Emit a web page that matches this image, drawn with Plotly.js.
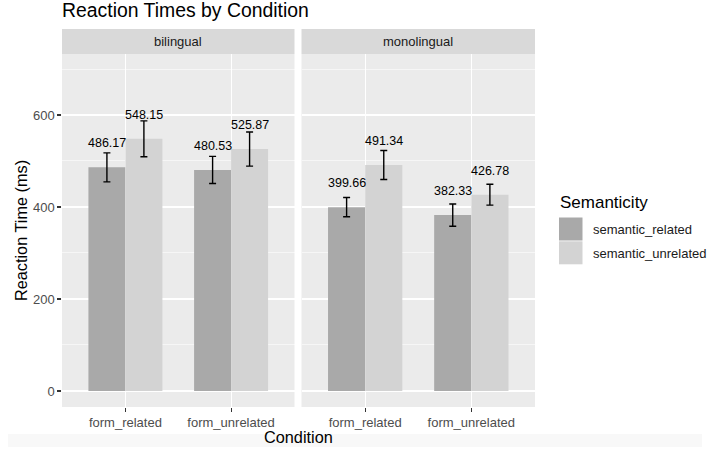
<!DOCTYPE html>
<html>
<head>
<meta charset="utf-8">
<script src="https://cdn.plot.ly/plotly-3.0.1.min.js"></script>
<style>html,body{margin:0;padding:0;background:#fff;}#chart{width:709px;height:455px;}</style>
</head>
<body>
<div id="chart"></div>
<script>
// ---- data ----
const categories = ['form_related', 'form_unrelated'];
const panels = ['bilingual', 'monolingual'];
const seriesNames = ['semantic_related', 'semantic_unrelated'];
const bilingualRelated = [486.17, 480.53];
const bilingualUnrelated = [548.15, 525.87];
const monolingualRelated = [399.66, 382.33];
const monolingualUnrelated = [491.34, 426.78];
const bilingualRelatedSE = [31.5, 29.5];
const bilingualUnrelatedSE = [39.0, 37.0];
const monolingualRelatedSE = [21.0, 24.3];
const monolingualUnrelatedSE = [31.5, 22.8];
const yTicks = [0, 200, 400, 600];

// ---- style ----
const colors = ['#A9A9A9', '#D3D3D3'];
const FONT = '"Liberation Sans", Arial, Helvetica, sans-serif';
const SMALL = 13, MID = 16.3, BIG = 19.4;
const W = 709, H = 455;
const L = 62, R = 535, T = 54, B = 407;
const px2x = p => (p - L) / (R - L);
const px2y = p => (B - p) / (B - T);
const gap = 7;
const splitL = px2x((L + R - gap) / 2 - 0.5);
const splitR = px2x((L + R + gap) / 2 - 0.5);

const panelData = [
  {name: panels[0], axis: 'x', vals: [bilingualRelated, bilingualUnrelated], se: [bilingualRelatedSE, bilingualUnrelatedSE]},
  {name: panels[1], axis: 'x2', vals: [monolingualRelated, monolingualUnrelated], se: [monolingualRelatedSE, monolingualUnrelatedSE]}
];

const traces = [];
const annotations = [];
const unitPx = ((R - L) * (splitL - 0)) / 2.2; // pixels per category unit
panelData.forEach(pd => {
  pd.vals.forEach((v, s) => {
    traces.push({
      type: 'bar', x: categories, y: v, name: seriesNames[s],
      xaxis: pd.axis, yaxis: 'y',
      marker: {color: colors[s], line: {width: 0}},
      error_y: {type: 'data', array: pd.se[s], visible: true, color: '#000', thickness: 1.4, width: 3.5},
      showlegend: false, hoverinfo: 'x+y'
    });
    v.forEach((val, i) => {
      annotations.push({
        x: categories[i], y: val, xref: pd.axis, yref: 'y',
        xshift: (s === 0 ? -1 : 1) * 0.175 * unitPx, yshift: 24,
        text: val.toFixed(2), showarrow: false, xanchor: 'center', yanchor: 'middle',
        font: {family: FONT, size: 12.5, color: '#000'}
      });
    });
  });
});

const shapes = [];
// strips
[[0, splitL], [splitR, 1]].forEach((d, k) => {
  shapes.push({type: 'rect', xref: 'paper', yref: 'paper', x0: d[0], x1: d[1], y0: 1, y1: px2y(29),
    fillcolor: '#D9D9D9', line: {width: 0}});
  annotations.push({xref: 'paper', yref: 'paper', x: (d[0] + d[1]) / 2, y: px2y(41.5), text: panels[k],
    showarrow: false, xanchor: 'center', yanchor: 'middle', font: {family: FONT, size: SMALL, color: '#1A1A1A'}});
});
// legend (custom, ggplot style)
annotations.push({xref: 'paper', yref: 'paper', x: px2x(557.5), y: px2y(202), text: 'Semanticity',
  showarrow: false, xanchor: 'left', yanchor: 'middle', font: {family: FONT, size: 17, color: '#000'}});
seriesNames.forEach((nm, s) => {
  const top = 217.5 + s * 23.8;
  shapes.push({type: 'rect', xref: 'paper', yref: 'paper', x0: px2x(559), x1: px2x(582.5),
    y0: px2y(top), y1: px2y(top + 23), fillcolor: colors[s], line: {width: 0}});
  annotations.push({xref: 'paper', yref: 'paper', x: px2x(590.5), y: px2y(top + 11.8), text: nm,
    showarrow: false, xanchor: 'left', yanchor: 'middle', font: {family: FONT, size: SMALL, color: '#1A1A1A'}});
});
// x axis title
annotations.push({xref: 'paper', yref: 'paper', x: 0.5, y: px2y(437), text: 'Condition',
  showarrow: false, xanchor: 'center', yanchor: 'middle', font: {family: FONT, size: MID, color: '#000'}});
// faint band at the bottom of the screenshot
shapes.push({type: 'rect', xref: 'paper', yref: 'paper', x0: px2x(8), x1: px2x(702), y0: px2y(447), y1: px2y(434),
  fillcolor: '#F8F8F8', line: {width: 0}, layer: 'below'});

const xaxisBase = {
  type: 'category', range: [-0.6, 1.6], showgrid: true, gridcolor: '#FFFFFF', gridwidth: 1.1,
  ticks: 'outside', ticklen: 3.7, tickwidth: 1.1, tickcolor: '#333333', zeroline: false, showline: false,
  tickfont: {family: FONT, size: SMALL, color: '#4D4D4D'}, anchor: 'y', fixedrange: true
};

const layout = {
  width: W, height: H,
  margin: {l: L, r: W - R, t: T, b: H - B, pad: 0},
  paper_bgcolor: '#FFFFFF', plot_bgcolor: '#EBEBEB',
  barmode: 'group', bargap: 0.3, bargroupgap: 0,
  showlegend: false,
  title: {text: 'Reaction Times by Condition', x: L / W, xanchor: 'left', xref: 'container',
    y: 1 - 10.5 / H, yanchor: 'middle', yref: 'container', font: {family: FONT, size: BIG, color: '#000'}},
  xaxis: Object.assign({}, xaxisBase, {domain: [0, splitL]}),
  xaxis2: Object.assign({}, xaxisBase, {domain: [splitR, 1]}),
  yaxis: {
    range: [-34.8, 732.6], tickvals: yTicks, ticktext: yTicks.map(String),
    showgrid: true, gridcolor: '#FFFFFF', gridwidth: 1.1,
    minor: {tickvals: [100, 300, 500, 700], showgrid: true, gridcolor: '#FFFFFF', gridwidth: 0.55, ticks: ''},
    ticks: 'outside', ticklen: 3.7, tickwidth: 1.1, tickcolor: '#333333', zeroline: false, showline: false,
    tickfont: {family: FONT, size: SMALL, color: '#4D4D4D'},
    title: {text: 'Reaction Time (ms)', standoff: 1, font: {family: FONT, size: MID, color: '#000'}},
    fixedrange: true
  },
  shapes: shapes,
  annotations: annotations,
  font: {family: FONT}
};

Plotly.newPlot('chart', traces, layout, {displayModeBar: false, staticPlot: true});
</script>
</body>
</html>
